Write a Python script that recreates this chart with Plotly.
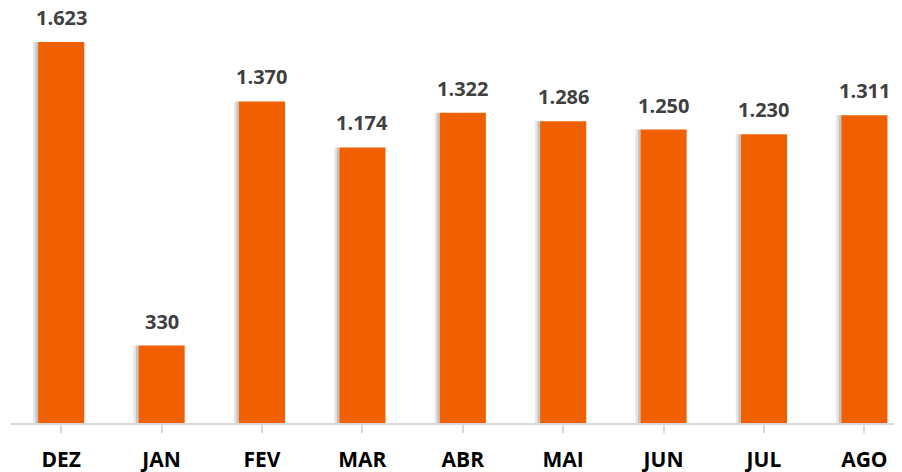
import plotly.graph_objects as go

months = ["DEZ", "JAN", "FEV", "MAR", "ABR", "MAI", "JUN", "JUL", "AGO"]
values = [1623, 330, 1370, 1174, 1322, 1286, 1250, 1230, 1311]
labels = ["1.623", "330", "1.370", "1.174", "1.322", "1.286", "1.250", "1.230", "1.311"]

BAR_COLOR = "#F06000"
xs = list(range(len(months)))

fig = go.Figure()
# soft shadow on the left side of each bar
fig.add_trace(go.Bar(x=xs, y=values, width=0.05, offset=-0.28,
                     marker=dict(color="rgba(0,0,0,0.10)", line=dict(width=0)),
                     hoverinfo="skip", showlegend=False))
fig.add_trace(go.Bar(x=xs, y=values, width=0.025, offset=-0.255,
                     marker=dict(color="rgba(0,0,0,0.15)", line=dict(width=0)),
                     hoverinfo="skip", showlegend=False))
fig.add_trace(go.Bar(x=xs, y=values, width=0.46,
                     marker=dict(color=BAR_COLOR, line=dict(width=0)),
                     showlegend=False))

for xi, v, t in zip(xs, values, labels):
    fig.add_annotation(x=xi, y=v, text=t, showarrow=False, yanchor="bottom",
                       yshift=15, height=18, valign="middle", borderpad=0,
                       font=dict(family="Open Sans", size=20, color="#404040", weight="bold"))

fig.update_layout(
    width=894, height=464,
    margin=dict(l=3, r=0, t=0, b=49),
    plot_bgcolor="white", paper_bgcolor="white",
    barmode="overlay",
    xaxis=dict(
        range=[-0.5, 8.375],
        tickmode="array", tickvals=xs, ticktext=months,
        showline=True, linecolor="#D9D9D9", linewidth=2,
        ticks="outside", ticklen=8, tickcolor="#D9D9D9", tickwidth=2,
        tickson="boundaries",
        tickfont=dict(family="Open Sans", size=21, color="black", weight="bold"),
        ticklabelstandoff=9,
        showgrid=False, zeroline=False, automargin=False,
    ),
    yaxis=dict(range=[0, 1768], visible=False, showgrid=False, zeroline=False),
)

fig.write_html("out.html")
